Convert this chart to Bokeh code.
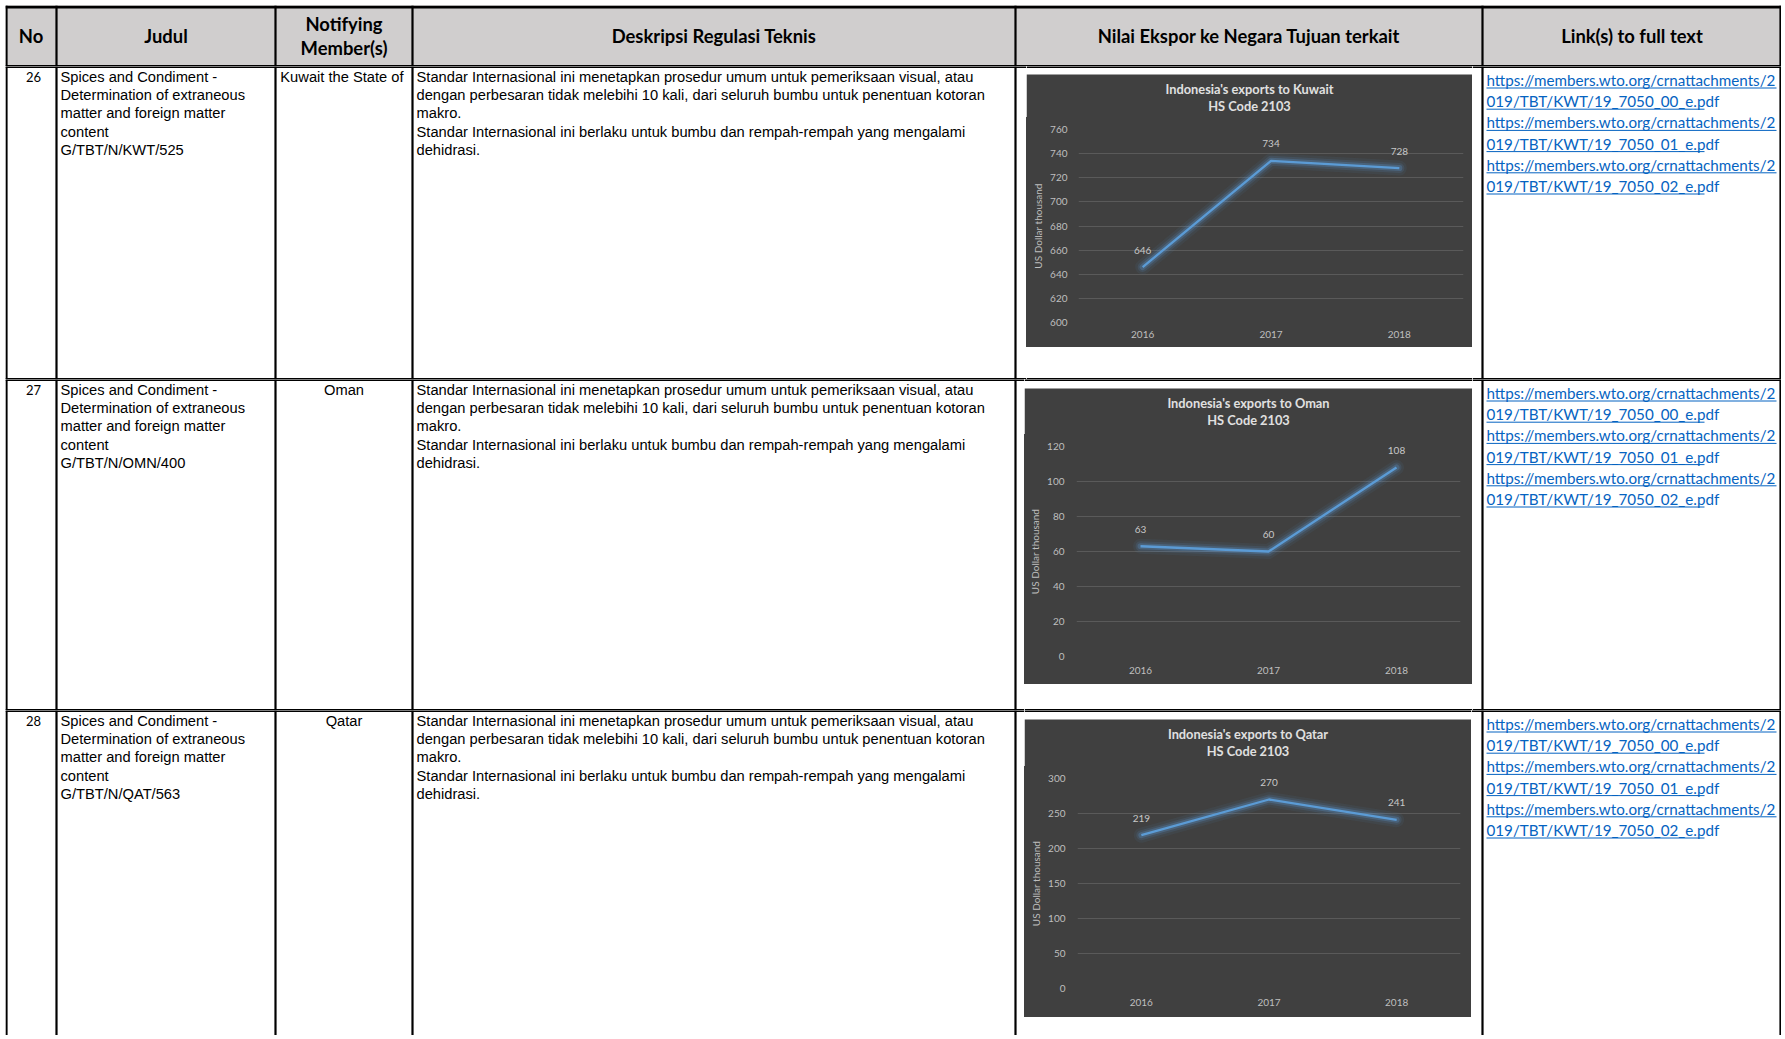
from bokeh.plotting import figure
from bokeh.models import Range1d, FactorRange, FixedTicker, ColumnDataSource, LabelSet
from bokeh.layouts import row, column
from bokeh.embed import file_html
from bokeh.resources import INLINE
from bokeh.core.properties import value

# ---------------- data ----------------
years = ["2016", "2017", "2018"]
kuwait_values = [646, 734, 728]
oman_values = [63, 60, 108]
qatar_values = [219, 270, 241]
kuwait_ticks = [600, 620, 640, 660, 680, 700, 720, 740, 760]
oman_ticks = [0, 20, 40, 60, 80, 100, 120]
qatar_ticks = [0, 50, 100, 150, 200, 250, 300]
countries = ["Kuwait", "Oman", "Qatar"]
hs_code = "HS Code 2103"
y_axis_title = "US Dollar thousand"

row_numbers = ["26", "27", "28"]
notifying_members = ["Kuwait  the State of", "Oman", "Qatar"]
notification_codes = ["G/TBT/N/KWT/525", "G/TBT/N/OMN/400", "G/TBT/N/QAT/563"]
judul_lines = ["Spices and Condiment -", "Determination of extraneous",
               "matter and foreign matter", "content"]
description_lines = [
    "Standar Internasional ini menetapkan prosedur umum untuk pemeriksaan visual, atau",
    "dengan perbesaran tidak melebihi 10 kali, dari seluruh bumbu untuk penentuan kotoran",
    "makro.",
    "Standar Internasional ini berlaku untuk bumbu dan rempah-rempah yang mengalami",
    "dehidrasi.",
]
link_lines = [
    "https://members.wto.org/crnattachments/2", "019/TBT/KWT/19_7050_00_e.pdf",
    "https://members.wto.org/crnattachments/2", "019/TBT/KWT/19_7050_01_e.pdf",
    "https://members.wto.org/crnattachments/2", "019/TBT/KWT/19_7050_02_e.pdf",
]
header_single = ["No", "Judul", "Deskripsi Regulasi Teknis",
                 "Nilai Ekspor ke Negara Tujuan terkait", "Link(s) to full text"]
header_double = ["Notifying", "Member(s)"]

# ---------------- layout (page pixel space) ----------------
RX0, RX1, RY0, RY1 = 5, 1781, 5, 1035
col_x = [5, 56, 275, 412, 1015, 1482, 1781]
header_bottom = 66
row_tops = [66, 379, 710]
row_bottoms = [379, 710, RY1]
border_y = [header_bottom, 379, 710]
chart_boxes = [(1026, 74, 1472, 347), (1024, 388, 1472, 684), (1024, 719, 1471, 1017)]
frame_boxes = [(1078, 129, 1463, 322), (1076, 446, 1460, 656), (1077, 778, 1460, 988)]
title_offsets = (14, 31)
xlabel_y = [336, 672, 1004]
ytick_right = [1067, 1064, 1065]

HEADER_FONT = value("Lato")
BODY_FONT = value("Liberation Sans")
LINK_COLOR = "#0563c1"
DARK = "#404040"
BODY_SIZE = "14.7px"


def panel(rx0, rx1, ry0, ry1, fill="white"):
    f = figure(width=rx1 - rx0, height=ry1 - ry0,
               x_range=Range1d(rx0, rx1), y_range=Range1d(ry1, ry0),
               output_backend="svg", toolbar_location=None, min_border=0, title=None,
               x_axis_location=None, y_axis_location=None, outline_line_color=None,
               background_fill_color=fill, border_fill_color=fill)
    f.grid.visible = False
    return f


def borders(f, rx0, rx1, ry0, ry1, top_outer=False):
    vx = []
    for c in col_x:
        if rx0 <= c <= rx1:
            vx.append(6 if c == RX0 else (RX1 - 1 if c == RX1 else c))
    if vx:
        f.segment(x0=vx, x1=vx, y0=[ry0] * len(vx), y1=[ry1] * len(vx),
                  line_color="black", line_width=2.2)
    hy = [b for b in border_y if ry0 <= b <= ry1]
    if top_outer:
        hy.append(RY0 + 1.5)
    if hy:
        f.segment(x0=[rx0] * len(hy), x1=[rx1] * len(hy), y0=hy, y1=hy,
                  line_color="black", line_width=3)


# ---------------- header ----------------
hdr = panel(RX0, RX1, RY0, header_bottom, fill="#d0cece")
borders(hdr, RX0, RX1, RY0, header_bottom, top_outer=True)
centers = [(col_x[i] + col_x[i + 1]) / 2 for i in range(len(col_x) - 1)]
hdr.text(x=[centers[0], centers[1], centers[3], centers[4], centers[5], centers[2], centers[2]],
         y=[35.5] * 5 + [23.5, 47.5], text=header_single + header_double,
         text_font=HEADER_FONT, text_font_style="bold", text_font_size="18.4px",
         text_color="black", text_align="center", text_baseline="middle")


def make_chart(i, values, ticks, split):
    bx0, by0, bx1, by1 = chart_boxes[i]
    fx0, fy0, fx1, fy1 = frame_boxes[i]
    lo, hi = ticks[0], ticks[-1]
    p = figure(width=bx1 - bx0, height=by1 - split, x_range=FactorRange(factors=years),
               y_range=Range1d(lo, hi), output_backend="svg",
               toolbar_location=None, title=None,
               min_border_left=fx0 - bx0, min_border_right=bx1 - fx1,
               min_border_top=fy0 - split, min_border_bottom=by1 - fy1,
               background_fill_color=DARK, border_fill_color=DARK, outline_line_color=None,
               styles={"background-color": DARK})
    p.xgrid.visible = False
    p.ygrid.ticker = FixedTicker(ticks=ticks[1:])
    p.ygrid.grid_line_color = "#5a5a5a"
    p.ygrid.grid_line_width = 1
    p.yaxis.ticker = FixedTicker(ticks=ticks)
    for ax in (p.xaxis, p.yaxis):
        ax.axis_line_color = None
        ax.major_tick_line_color = None
        ax.minor_tick_line_color = None
        ax.major_tick_out = 0
        ax.major_tick_in = 0
        ax.major_label_text_font = "Lato"
        ax.major_label_text_font_size = "10px"
        ax.major_label_text_color = "#bfbfbf"
    p.yaxis.major_label_standoff = fx0 - ytick_right[i]
    p.xaxis.major_label_standoff = xlabel_y[i] - fy1 - 6
    p.yaxis.axis_label = y_axis_title
    p.yaxis.axis_label_text_font = "Lato"
    p.yaxis.axis_label_text_font_style = "normal"
    p.yaxis.axis_label_text_font_size = "10px"
    p.yaxis.axis_label_text_color = "#bfbfbf"
    p.yaxis.axis_label_standoff = 3

    src = ColumnDataSource(dict(x=years, y=values, label=[str(v) for v in values]))
    for w, a in ((15, 0.07), (10, 0.13), (6, 0.26)):
        p.line("x", "y", source=src, line_color="#5b9bd5", line_width=w, line_alpha=a,
               line_join="round", line_cap="round")
    p.line("x", "y", source=src, line_color="#5b9bd5", line_width=2.3, line_join="round")
    p.add_layout(LabelSet(x="x", y="y", text="label", source=src, y_offset=17,
                          text_align="center", text_baseline="middle",
                          text_font=value("Lato"), text_font_size="10px",
                          text_color="#c8c8c8"))
    return p


series = [(kuwait_values, kuwait_ticks), (oman_values, oman_ticks), (qatar_values, qatar_ticks)]
LINE = 18.4
rows = [hdr]
for r, (top, bot) in enumerate(zip(row_tops, row_bottoms)):
    bx0, by0, bx1, by1 = chart_boxes[r]
    fy0 = frame_boxes[r][1]
    split = fy0 - 12

    # left part: No, Judul, Notifying, Deskripsi
    lf = panel(RX0, bx0, top, bot)
    borders(lf, RX0, bx0, top, bot)
    y0 = top + 10
    bx, byy, bt = [], [], []
    for j, s in enumerate(judul_lines + [notification_codes[r]]):
        bx.append(col_x[1] + 4); byy.append(y0 + j * LINE); bt.append(s)
    for j, s in enumerate(description_lines):
        bx.append(col_x[3] + 4); byy.append(y0 + j * LINE); bt.append(s)
    lf.text(x=bx, y=byy, text=bt, text_font=BODY_FONT, text_font_size=BODY_SIZE,
            text_color="black", text_align="left", text_baseline="middle")
    lf.text(x=[centers[2]], y=[y0], text=[notifying_members[r]], text_font=BODY_FONT,
            text_font_size=BODY_SIZE, text_color="black", text_align="center",
            text_baseline="middle")
    lf.text(x=[33], y=[y0], text=[row_numbers[r]], text_font=HEADER_FONT,
            text_font_size="13px", text_color="black", text_align="center",
            text_baseline="middle")

    # chart column
    ts = panel(bx0, bx1, top, split)
    ts.quad(left=[bx0], right=[bx1], top=[by0], bottom=[split + 1], fill_color=DARK, line_color=None)
    borders(ts, bx0, bx1, top, split)
    cx = (bx0 + bx1) / 2
    ts.text(x=[cx, cx], y=[by0 + title_offsets[0], by0 + title_offsets[1]],
            text=["Indonesia's exports to " + countries[r], hs_code], text_font=HEADER_FONT,
            text_font_style="bold", text_font_size="12.8px", text_color="#e0e0e0",
            text_align="center", text_baseline="middle")
    ch = make_chart(r, series[r][0], series[r][1], split)
    bs = panel(bx0, bx1, by1, bot)
    borders(bs, bx0, bx1, by1, bot)
    chart_col = column(row(ts), row(ch, styles={"background-color": DARK}), row(bs), spacing=0)

    # right part: links
    rf = panel(bx1, RX1, top, bot)
    borders(rf, bx1, RX1, top, bot)
    lx, ly, ux0, ux1, uy = [], [], [], [], []
    for j, s in enumerate(link_lines):
        yy = top + 13.5 + j * 21.2
        lx.append(col_x[5] + 4); ly.append(yy)
        ux0.append(col_x[5] + 4)
        ux1.append(1776 if s.startswith("http") else 1704)
        uy.append(yy + 8)
    rf.text(x=lx, y=ly, text=link_lines, text_font=HEADER_FONT, text_font_size="15.2px",
            text_color=LINK_COLOR, text_align="left", text_baseline="middle")
    rf.segment(x0=ux0, x1=ux1, y0=uy, y1=uy, line_color=LINK_COLOR, line_width=1)

    rows.append(row(lf, chart_col, rf, spacing=0))

layout = column(*rows, spacing=0)
layout.margin = (RY0, 0, 0, RX0)
open("out.html", "w").write(file_html(layout, INLINE))
